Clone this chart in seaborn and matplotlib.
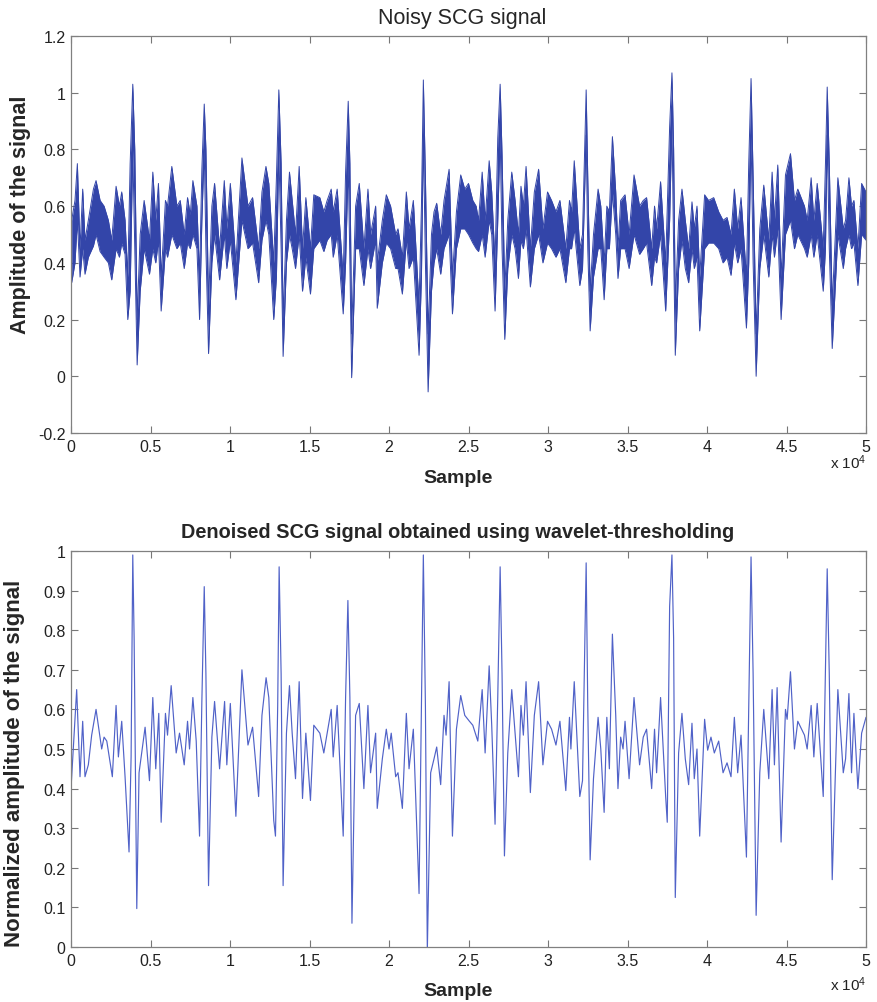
import numpy as np
import pandas as pd
import matplotlib
matplotlib.use('Agg')
import matplotlib.pyplot as plt
from matplotlib.ticker import FuncFormatter, MultipleLocator
import seaborn as sns

# noisy SCG: band (sample, upper edge, lower edge)
noisy_x = [42, 250, 400, 567, 735, 880, 1090, 1410, 1575, 1830, 2080, 2350, 2560, 2835, 3045, 3190, 3400,
           3570, 3720, 3885, 4010, 4160, 4350, 4600, 4935, 5145, 5330, 5500, 5670, 5940, 6070, 6340, 6660,
           6870, 7120, 7330, 7500, 7665, 7920, 8085, 8230, 8380, 8485, 8650, 8860, 9030, 9345, 9640, 9800,
           10020, 10370, 10750, 11130, 11420, 11800, 12010, 12260, 12440, 12750, 12920, 13070, 13215, 13340,
           13550, 13740, 13910, 14120, 14350, 14560, 14770, 15060, 15270, 15650, 15900, 16110, 16365, 16490,
           16740, 17120, 17270, 17435, 17540, 17650, 17900, 18130, 18420, 18675, 18840, 19160, 19260, 19580,
           19830, 20100, 20420, 20565, 20840, 21090, 21260, 21530, 21890, 22040, 22160, 22290, 22460, 22670,
           22830, 23000, 23250, 23460, 23780, 23990, 24240, 24510, 24765, 25000, 25270, 25480, 25630, 25860,
           26045, 26300, 26460, 26670, 26840, 26990, 27110, 27280, 27470, 27720, 27930, 28140, 28300, 28450,
           28620, 28890, 29140, 29410, 29680, 29970, 30225, 30500, 30750, 31120, 31350, 31480, 31650, 32000,
           32170, 32400, 32500, 32650, 32860, 33150, 33320, 33530, 33700, 33860, 34050, 34260, 34400, 34570,
           34845, 35100, 35410, 35760, 35990, 36200, 36520, 36700, 36830, 37080, 37400, 37650, 37795, 37900,
           38005, 38215, 38425, 38635, 38845, 39055, 39200, 39370, 39540, 39850, 40100, 40420, 40735, 41010,
           41260, 41510, 41720, 41930, 42140, 42480, 42625, 42770, 42900, 43090, 43320, 43570, 43885, 44095,
           44240, 44450, 44660, 44935, 45250, 45500, 45710, 46130, 46300, 46550, 46720, 46930, 47310, 47450,
           47560, 47690, 47875, 48230, 48570, 48715, 48925, 49090, 49240, 49490, 49725, 50000]
noisy_hi = [0.55, 0.62, 0.75, 0.45, 0.66, 0.48, 0.55, 0.66, 0.69, 0.62, 0.60, 0.55, 0.48, 0.67, 0.60, 0.65, 0.55,
            0.35, 0.75, 1.03, 0.80, 0.20, 0.50, 0.62, 0.48, 0.72, 0.55, 0.68, 0.35, 0.62, 0.60, 0.74, 0.60,
            0.62, 0.50, 0.63, 0.57, 0.69, 0.60, 0.35, 0.73, 0.96, 0.80, 0.25, 0.60, 0.68, 0.45, 0.69, 0.52,
            0.68, 0.40, 0.77, 0.60, 0.63, 0.45, 0.65, 0.74, 0.68, 0.40, 0.70, 1.01, 0.75, 0.20,
            0.55, 0.72, 0.62, 0.50, 0.74, 0.45, 0.63, 0.45, 0.64, 0.63, 0.58, 0.62, 0.66, 0.58,
            0.66, 0.35, 0.72, 0.97, 0.75, 0.15, 0.60, 0.68, 0.45, 0.66, 0.50, 0.60, 0.40, 0.55,
            0.64, 0.60, 0.50, 0.52, 0.42, 0.65, 0.52, 0.62, 0.25, 0.60, 1.045, 0.70, 0.15, 0.50,
            0.58, 0.61, 0.50, 0.62, 0.73, 0.35, 0.58, 0.71, 0.66, 0.68, 0.62, 0.60, 0.55, 0.72,
            0.55, 0.76, 0.65, 0.40, 0.84, 1.03, 0.78, 0.30, 0.55, 0.72, 0.62, 0.50, 0.67, 0.60,
            0.74, 0.45, 0.65, 0.73, 0.52, 0.65, 0.62, 0.58, 0.62, 0.45, 0.62, 0.58, 0.76, 0.45,
            0.50, 1.01, 0.70, 0.30, 0.50, 0.66, 0.60, 0.40, 0.60, 0.58, 0.845, 0.65, 0.45, 0.62,
            0.64, 0.50, 0.71, 0.60, 0.62, 0.63, 0.45, 0.60, 0.52, 0.686, 0.40, 0.88, 1.07, 0.80,
            0.25, 0.55, 0.66, 0.55, 0.45, 0.615, 0.52, 0.60, 0.35, 0.64, 0.62, 0.63, 0.58, 0.55,
            0.56, 0.50, 0.66, 0.52, 0.63, 0.35, 0.75, 1.05, 0.70, 0.15, 0.52, 0.674, 0.48, 0.72,
            0.55, 0.745, 0.35, 0.71, 0.785, 0.62, 0.66, 0.60, 0.55, 0.70, 0.55, 0.68, 0.45, 0.75,
            1.02, 0.75, 0.25, 0.70, 0.52, 0.55, 0.70, 0.60, 0.62, 0.45, 0.68, 0.65]
noisy_lo = [0.33, 0.40, 0.55, 0.35, 0.45, 0.36, 0.42, 0.46, 0.50, 0.44, 0.42, 0.40, 0.34, 0.45, 0.42, 0.47, 0.43,
            0.20, 0.30, 0.80, 0.45, 0.04, 0.30, 0.45, 0.36, 0.45, 0.40, 0.48, 0.23, 0.45, 0.42, 0.50, 0.45,
            0.47, 0.38, 0.47, 0.45, 0.50, 0.45, 0.20, 0.55, 0.80, 0.45, 0.08, 0.40, 0.50, 0.34, 0.50, 0.38,
            0.48, 0.27, 0.55, 0.45, 0.47, 0.33, 0.48, 0.55, 0.50, 0.20, 0.35, 0.80, 0.45, 0.07,
            0.40, 0.50, 0.45, 0.38, 0.50, 0.30, 0.42, 0.29, 0.45, 0.48, 0.44, 0.48, 0.50, 0.42,
            0.50, 0.22, 0.40, 0.75, 0.40, -0.005, 0.45, 0.45, 0.32, 0.45, 0.38, 0.48, 0.24, 0.40,
            0.47, 0.45, 0.38, 0.38, 0.29, 0.48, 0.38, 0.42, 0.074, 0.35, 0.85, 0.40, -0.055, 0.30,
            0.40, 0.45, 0.36, 0.45, 0.50, 0.22, 0.45, 0.52, 0.52, 0.50, 0.47, 0.45, 0.44, 0.50,
            0.42, 0.55, 0.50, 0.23, 0.55, 0.85, 0.45, 0.13, 0.38, 0.50, 0.45, 0.345, 0.48, 0.45,
            0.52, 0.315, 0.45, 0.50, 0.40, 0.47, 0.45, 0.42, 0.45, 0.33, 0.45, 0.45, 0.52, 0.32,
            0.38, 0.85, 0.45, 0.16, 0.35, 0.45, 0.45, 0.27, 0.45, 0.45, 0.65, 0.50, 0.345, 0.45,
            0.45, 0.38, 0.50, 0.43, 0.45, 0.47, 0.32, 0.42, 0.40, 0.50, 0.23, 0.55, 0.90, 0.45,
            0.074, 0.38, 0.48, 0.38, 0.33, 0.45, 0.38, 0.42, 0.16, 0.45, 0.47, 0.47, 0.45, 0.40,
            0.42, 0.356, 0.47, 0.40, 0.45, 0.17, 0.40, 0.85, 0.40, 0.0, 0.38, 0.50, 0.35, 0.50,
            0.42, 0.52, 0.20, 0.50, 0.55, 0.45, 0.50, 0.45, 0.42, 0.50, 0.42, 0.50, 0.30, 0.45,
            0.85, 0.45, 0.098, 0.50, 0.38, 0.45, 0.50, 0.45, 0.47, 0.32, 0.50, 0.48]

# denoised SCG
den_x = [0, 357, 567, 735, 880, 1090, 1300, 1575, 1930, 2080, 2250, 2600, 2835, 2980, 3190, 3400, 3570, 3650,
         3780, 3885, 3970, 4137, 4280, 4660, 4935, 5145, 5330, 5520, 5670, 5940, 6070, 6300, 6615, 6825,
         7120, 7330, 7455, 7665, 7875, 8085, 8230, 8380, 8485, 8650, 8860, 9030, 9345, 9660, 9800, 10020,
         10370, 10750, 11130, 11420, 11800, 12010, 12270, 12440, 12750, 12860, 13000, 13090, 13215, 13340,
         13550, 13740, 13910, 14120, 14350, 14560, 14770, 15060, 15270, 15650, 15900, 16110, 16365, 16490,
         16740, 17120, 17270, 17415, 17540, 17670, 17900, 18130, 18420, 18675, 18840, 19160, 19260, 19580,
         19830, 20000, 20140, 20420, 20565, 20840, 21090, 21260, 21530, 21890, 22040, 22160, 22290, 22410,
         22620, 22830, 23000, 23250, 23460, 23590, 23780, 23990, 24240, 24510, 24765, 25060, 25270, 25585,
         25860, 26045, 26300, 26460, 26670, 26840, 26990, 27110, 27260, 27470, 27720, 27930, 28140, 28300,
         28450, 28620, 28890, 29140, 29410, 29680, 29970, 30225, 30500, 30750, 31120, 31350, 31440, 31650,
         32000, 32170, 32400, 32500, 32650, 32860, 33150, 33320, 33530, 33700, 33860, 34050, 34260, 34400,
         34570, 34720, 34845, 35100, 35410, 35760, 35990, 36200, 36520, 36700, 36830, 37080, 37400, 37500,
         37650, 37795, 37900, 38005, 38215, 38425, 38635, 38845, 39055, 39200, 39370, 39540, 39850, 40040,
         40250, 40460, 40735, 41010, 41260, 41510, 41720, 41930, 42140, 42480, 42625, 42770, 42900, 43090,
         43320, 43570, 43885, 44095, 44240, 44410, 44660, 44935, 45040, 45250, 45500, 45710, 46130, 46300,
         46550, 46720, 46930, 47310, 47560, 47690, 47875, 48230, 48570, 48715, 48925, 49090, 49240, 49490,
         49725, 50000]
den_y = [0.40, 0.65, 0.43, 0.57, 0.43, 0.46, 0.535, 0.60, 0.50, 0.53, 0.52, 0.43, 0.61, 0.48, 0.57, 0.43, 0.30, 0.24,
         0.48, 0.99, 0.78, 0.097, 0.44, 0.555, 0.42, 0.63, 0.45, 0.59, 0.315, 0.59, 0.535, 0.66, 0.49, 0.54,
         0.46, 0.57, 0.50, 0.63, 0.52, 0.28, 0.62, 0.91, 0.69, 0.155, 0.53, 0.62, 0.45, 0.62, 0.46, 0.615,
         0.33, 0.70, 0.51, 0.555, 0.38, 0.585, 0.68, 0.63, 0.32, 0.28, 0.61, 0.96, 0.69, 0.155,
         0.54, 0.66, 0.54, 0.425, 0.67, 0.375, 0.54, 0.37, 0.56, 0.54, 0.49, 0.54, 0.60, 0.48,
         0.61, 0.28, 0.63, 0.875, 0.63, 0.06, 0.585, 0.615, 0.40, 0.61, 0.44, 0.54, 0.35, 0.475,
         0.55, 0.50, 0.54, 0.43, 0.44, 0.35, 0.59, 0.45, 0.55, 0.135, 0.61, 0.99, 0.61, -0.01,
         0.44, 0.475, 0.505, 0.41, 0.585, 0.535, 0.67, 0.28, 0.55, 0.635, 0.585, 0.57, 0.56, 0.52,
         0.65, 0.49, 0.71, 0.56, 0.31, 0.63, 0.96, 0.69, 0.23, 0.49, 0.65, 0.54, 0.43, 0.61,
         0.535, 0.67, 0.39, 0.585, 0.67, 0.46, 0.57, 0.55, 0.51, 0.57, 0.395, 0.58, 0.50, 0.67,
         0.38, 0.42, 0.97, 0.61, 0.22, 0.425, 0.58, 0.50, 0.34, 0.58, 0.45, 0.79, 0.585, 0.40,
         0.53, 0.50, 0.57, 0.425, 0.63, 0.46, 0.53, 0.55, 0.40, 0.55, 0.44, 0.63, 0.38, 0.315,
         0.86, 0.99, 0.78, 0.125, 0.49, 0.59, 0.475, 0.41, 0.565, 0.425, 0.50, 0.28, 0.575, 0.497,
         0.53, 0.49, 0.52, 0.44, 0.465, 0.43, 0.58, 0.44, 0.535, 0.227, 0.61, 0.985, 0.69, 0.08,
         0.44, 0.60, 0.425, 0.65, 0.46, 0.655, 0.265, 0.60, 0.575, 0.695, 0.50, 0.57, 0.535, 0.50,
         0.61, 0.48, 0.615, 0.38, 0.955, 0.69, 0.17, 0.65, 0.44, 0.475, 0.64, 0.44, 0.59, 0.40,
         0.54, 0.58]

x_ticks = [0, 5000, 10000, 15000, 20000, 25000, 30000, 35000, 40000, 45000, 50000]

sns.set_theme(style='ticks')
plt.rcParams['font.family'] = ['Liberation Sans', 'DejaVu Sans']
plt.rcParams['axes.unicode_minus'] = False
plt.rcParams['mathtext.default'] = 'regular'

noisy = pd.DataFrame({'x': noisy_x, 'hi': noisy_hi, 'lo': noisy_lo})
den = pd.DataFrame({'x': den_x, 'y': den_y})

fig = plt.figure(figsize=(8.77, 10.03), dpi=100)
ax1 = fig.add_axes([71 / 877, 1 - 434 / 1003, 795 / 877, 397 / 1003])
ax2 = fig.add_axes([71 / 877, 1 - 948 / 1003, 795 / 877, 396 / 1003])

noisy_col = '#3345a9'
ax1.fill_between(noisy['x'], noisy['lo'], noisy['hi'], color=noisy_col, lw=0)
sns.lineplot(data=noisy, x='x', y='hi', ax=ax1, color=noisy_col, lw=0.7, estimator=None, sort=False)
sns.lineplot(data=noisy, x='x', y='lo', ax=ax1, color=noisy_col, lw=0.7, estimator=None, sort=False)

sns.lineplot(data=den, x='x', y='y', ax=ax2, color='#5062c8', lw=0.85, estimator=None, sort=False)

fmt = FuncFormatter(lambda v, p: '%g' % (v / 1e4))
for ax in (ax1, ax2):
    ax.set_xlim(0, 50000)
    ax.set_xticks(x_ticks)
    ax.xaxis.set_major_formatter(fmt)
    ax.yaxis.set_major_formatter(FuncFormatter(lambda v, p: '%g' % round(v, 2)))
    ax.tick_params(direction='in', length=5, width=0.8, color='#777777', labelsize=11.5,
                   labelcolor='#222222', top=True, right=True, pad=4)
    for s in ax.spines.values():
        s.set_visible(True)
        s.set_color('#808080')
        s.set_linewidth(0.9)
    ax.set_xlabel('Sample', fontsize=14, fontweight='bold')
    ax.xaxis.label.set_va('center')

ax1.xaxis.set_label_coords(0.487, -0.112)
ax2.xaxis.set_label_coords(0.487, -0.11)
ax1.text(1.0, -0.072, 'x 10$^{4}$', transform=ax1.transAxes, ha='right', va='center',
         fontsize=11, color='#222222')
ax2.text(1.0, -0.092, 'x 10$^{4}$', transform=ax2.transAxes, ha='right', va='center',
         fontsize=11, color='#222222')

ax1.set_ylim(-0.2, 1.2)
ax1.yaxis.set_major_locator(MultipleLocator(0.2))
ax1.set_ylabel('Amplitude of the signal', fontsize=15.5, fontweight='bold')
ax1.yaxis.set_label_coords(-0.05, 0.552)
ax1.set_title('Noisy SCG signal', fontsize=15.5, x=0.492, pad=9.5)

ax2.set_ylim(0, 1)
ax2.yaxis.set_major_locator(MultipleLocator(0.1))
ax2.set_ylabel('Normalized amplitude of the signal', fontsize=16, fontweight='bold')
ax2.yaxis.set_label_coords(-0.058, 0.467)
ax2.set_title('Denoised SCG signal obtained using wavelet-thresholding', fontsize=14.3,
              fontweight='bold', x=0.486, pad=10)

fig.savefig('out.png', dpi=100, facecolor='white')
